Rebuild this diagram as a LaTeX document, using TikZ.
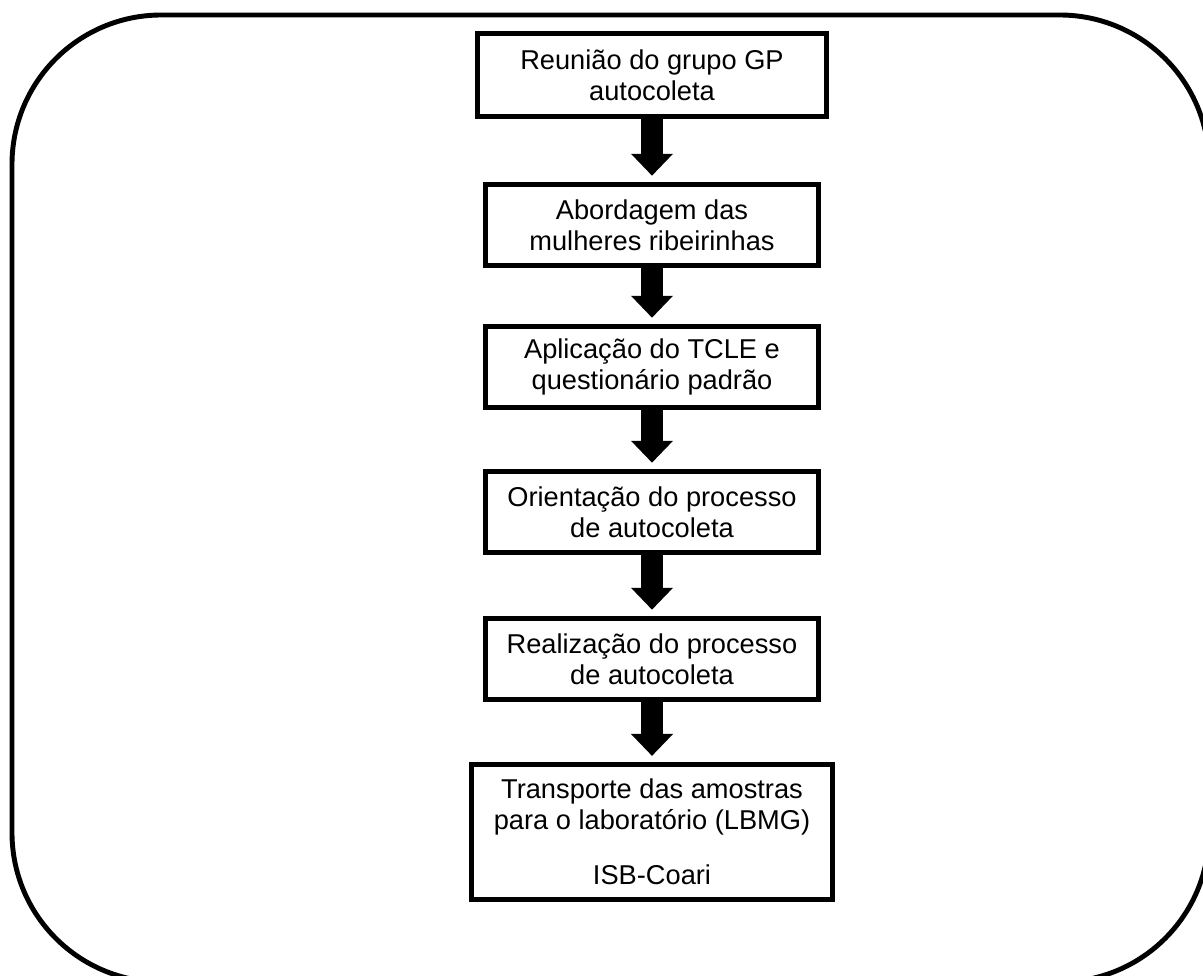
\documentclass[tikz,border=0pt]{standalone}
\usepackage{fontspec}
\setmainfont{Liberation Sans}
\usetikzlibrary{arrows.meta}
\tikzset{
  stepbox/.style={draw=black, line width=2.8pt, fill=white, align=center,
    minimum width=190pt, minimum height=46.5pt, inner sep=2pt,
    font=\fontsize{15.5}{17.6}\selectfont},
  fatarrow/.style={draw=black, line width=13pt,
    -{Triangle[width=23.2pt,length=12.5pt]}, shorten >=3.4pt}
}
\begin{document}
\begin{tikzpicture}[x=0.02cm,y=-0.02cm]
\useasboundingbox (0,0) rectangle (1203,976);
\clip (0,0) rectangle (1203,976);
\fill[white] (0,0) rectangle (1203,976);
\draw[line width=2.8pt, rounded corners=85pt] (12,15) rectangle (1209,982);

\node[stepbox, minimum width=199pt, minimum height=47pt] (b1) at (652,75)
  {Reunião do grupo GP\\autocoleta};
\node[stepbox] (b2) at (652,225) {Abordagem das\\mulheres ribeirinhas};
\node[stepbox] (b3) at (652,367) {Aplicação do TCLE e\\questionário padrão};
\node[stepbox] (b4) at (652,512) {Orientação do processo\\de autocoleta};
\node[stepbox] (b5) at (652,659) {Realização do processo\\de autocoleta};
\node[stepbox, minimum width=205pt, minimum height=77pt] (b6) at (652,832)
  {Transporte das amostras\\para o laboratório (LBMG)\\[13.6pt]ISB-Coari};

\draw[fatarrow] (b1.south) -- (b2.north);
\draw[fatarrow] (b2.south) -- (b3.north);
\draw[fatarrow] (b3.south) -- (b4.north);
\draw[fatarrow] (b4.south) -- (b5.north);
\draw[fatarrow] (b5.south) -- (b6.north);
\end{tikzpicture}
\end{document}
